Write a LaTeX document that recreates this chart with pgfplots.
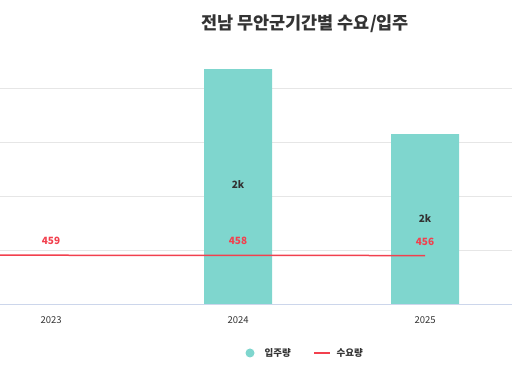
\documentclass[border=0pt]{standalone}
\usepackage{pgfplots}
\pgfplotsset{compat=1.18}
\usepackage{fontspec}
\setmainfont{Noto Sans CJK KR}
\definecolor{barc}{RGB}{127,214,206}
\definecolor{linec}{RGB}{242,64,78}
\definecolor{gridc}{RGB}{230,230,230}
\definecolor{axc}{RGB}{204,214,235}
\definecolor{txt}{RGB}{51,51,51}
\begin{document}
\begin{tikzpicture}[x=1pt,y=1pt]
\useasboundingbox (0,0) rectangle (512,377);
\begin{axis}[
  at={(0pt,72pt)}, anchor=south west,
  scale only axis, width=512pt, height=271pt,
  xmin=-0.273, xmax=2.465, ymin=0, ymax=2500,
  axis line style={draw=none},
  axis x line*=bottom,
  xtick={0,1,2}, xticklabels={2023,2024,2025},
  x tick label style={font=\fontsize{9.5}{10}\selectfont, text=txt, yshift=-8pt},
  xtick style={draw=none},
  major tick length=0pt,
  ytick={500,1000,1500,2000}, yticklabels={},
  ymajorgrids, grid style={gridc, line width=1pt},
  clip=true,
]
\addplot[ybar, bar width=68pt, fill=barc, draw=none] coordinates {(1,2177) (2,1577)};
\addplot[linec, line width=1.5pt, mark=none] coordinates {(-1,460) (0,459) (1,458) (2,456)};
\draw[axc, line width=1pt] (axis cs:-0.273,0) -- (axis cs:2.465,0);
\end{axis}
% data labels
\begin{scope}[every node/.style={font=\fontsize{10}{11}\selectfont\bfseries}]
\node[text=txt] at (238,377-185) {2k};
\node[text=txt] at (425,377-219) {2k};
\node[text=linec] at (51,377-241) {459};
\node[text=linec] at (238,377-241) {458};
\node[text=linec] at (425,377-242) {456};
\end{scope}
% title
\node[text=txt, font=\fontsize{17.5}{20}\selectfont\bfseries] at (305,377-24) {전남 무안군기간별 수요/입주};
% legend
\fill[barc] (250,377-353) circle (4.5pt);
\node[anchor=west, text=txt, font=\fontsize{9.5}{10}\selectfont\bfseries] at (261,377-353) {입주량};
\draw[linec, line width=1.5pt] (314,377-353) -- (330,377-353);
\node[anchor=west, text=txt, font=\fontsize{9.5}{10}\selectfont\bfseries] at (333,377-353) {수요량};
\end{tikzpicture}
\end{document}
